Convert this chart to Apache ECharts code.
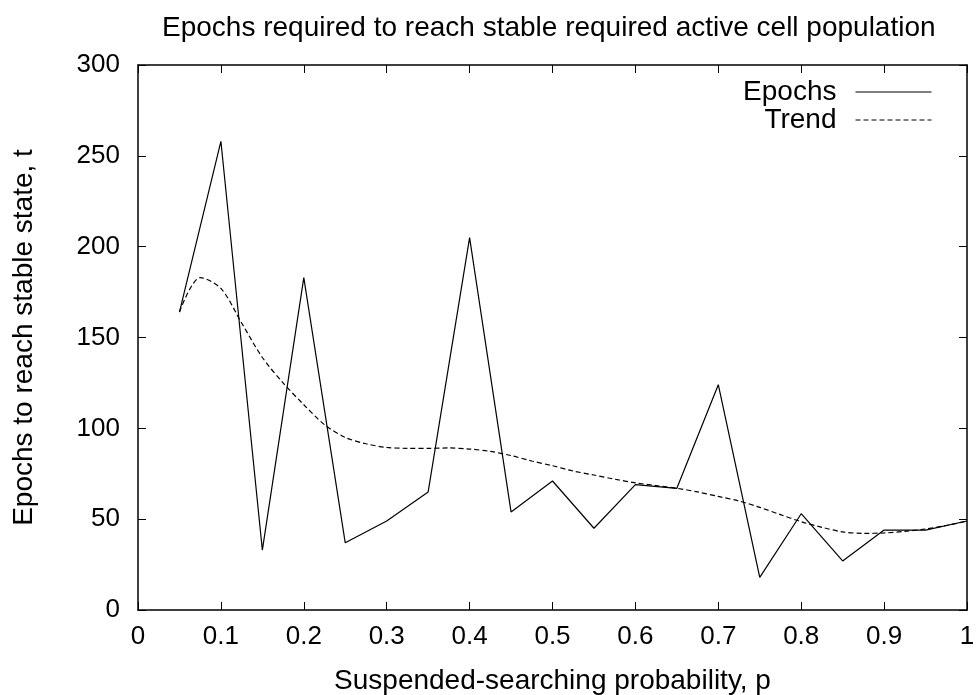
<!DOCTYPE html>
<html>
<head>
<meta charset="utf-8">
<script src="https://cdn.jsdelivr.net/npm/echarts@6/dist/echarts.min.js"></script>
<style>html,body{margin:0;padding:0;background:#fff;}#c{width:976px;height:695px;}</style>
</head>
<body>
<div id="c"></div>
<script>
const pValues = [0.05,0.1,0.15,0.2,0.25,0.3,0.35,0.4,0.45,0.5,0.55,0.6,0.65,0.7,0.75,0.8,0.85,0.9,0.95,1.0];
const epochs = [164,258,33,183,37,49,65,205,54,71,45,69,67,124,18,53,27,44,44,49];
const trendP = [0.05,0.075,0.1,0.125,0.15,0.175,0.2,0.225,0.25,0.275,0.3,0.325,0.35,0.375,0.4,0.425,0.45,0.475,0.5,0.525,0.55,0.575,0.6,0.625,0.65,0.675,0.7,0.725,0.75,0.775,0.8,0.825,0.85,0.875,0.9,0.925,0.95,0.975,1.0];
const trendValues = [164,183,177,158,139,125,113,102,95,91.5,89.5,89,89,89.2,88.6,87.3,85,82,79.4,76.5,74.3,72,70,68.5,67,65,62.5,60,56.5,52.5,48.6,45.5,43,42.2,42.4,43.3,44.6,46.5,49];
const xTicks = ['0','0.1','0.2','0.3','0.4','0.5','0.6','0.7','0.8','0.9','1'];
const yTicks = ['0','50','100','150','200','250','300'];

const FONT = '"Liberation Sans", Arial, sans-serif';
const chart = echarts.init(document.getElementById('c'), null, {renderer: 'canvas'});
const axisLine = {show: true, onZero: false, lineStyle: {color: '#000', width: 1.5}};
const tick = {show: true, inside: true, length: 8, lineStyle: {color: '#000', width: 1}};
chart.setOption({
  animation: false,
  backgroundColor: '#fff',
  title: {
    text: 'Epochs required to reach stable required active cell population',
    left: 157, top: 9,
    textStyle: {fontFamily: FONT, fontSize: 28, fontWeight: 'normal', color: '#000'}
  },
  grid: {left: 138, right: 9, top: 65, bottom: 85, containLabel: false, outerBoundsMode: 'none'},
  legend: {
    orient: 'vertical', right: 39, top: 73, align: 'right',
    itemWidth: 76, itemHeight: 14, itemGap: 0,
    itemStyle: {color: 'rgba(0,0,0,0)', borderWidth: 0, opacity: 0},
    lineStyle: {width: 1},
    textStyle: {fontFamily: FONT, fontSize: 28, lineHeight: 28, color: '#000', padding: [0, 14, 0, 0]},
    data: ['Epochs', 'Trend']
  },
  xAxis: [{
    type: 'value', min: 0, max: 1, interval: 0.1, position: 'bottom',
    axisLine: axisLine, axisTick: tick, splitLine: {show: false},
    axisLabel: {fontFamily: FONT, fontSize: 26, color: '#000', margin: 14,
      formatter: v => xTicks[Math.round(v * 10)]},
    name: 'Suspended-searching probability, p', nameLocation: 'middle', nameGap: 57,
    nameTextStyle: {fontFamily: FONT, fontSize: 28, color: '#000'}
  }, {
    type: 'value', min: 0, max: 1, interval: 0.1, position: 'top',
    axisLine: axisLine, axisTick: tick, splitLine: {show: false}, axisLabel: {show: false}
  }],
  yAxis: [{
    type: 'value', min: 0, max: 300, interval: 50, position: 'left',
    axisLine: axisLine, axisTick: tick, splitLine: {show: false},
    axisLabel: {fontFamily: FONT, fontSize: 26, color: '#000', margin: 18,
      formatter: v => yTicks[Math.round(v / 50)]},
    name: 'Epochs to reach stable state, t', nameLocation: 'middle', nameGap: 100, nameRotate: 90,
    nameTextStyle: {fontFamily: FONT, fontSize: 28, color: '#000'}
  }, {
    type: 'value', min: 0, max: 300, interval: 50, position: 'right',
    axisLine: axisLine, axisTick: tick, splitLine: {show: false}, axisLabel: {show: false}
  }],
  series: [{
    name: 'Epochs', type: 'line', symbol: 'none',
    lineStyle: {color: '#000', width: 1.2},
    itemStyle: {color: '#000'},
    data: pValues.map((p, i) => [p, epochs[i]])
  }, {
    name: 'Trend', type: 'line', symbol: 'none', smooth: 0.3,
    lineStyle: {color: '#000', width: 1.2, type: [5, 3]},
    itemStyle: {color: '#000'},
    data: trendP.map((p, i) => [p, trendValues[i]])
  }]
});
</script>
</body>
</html>
